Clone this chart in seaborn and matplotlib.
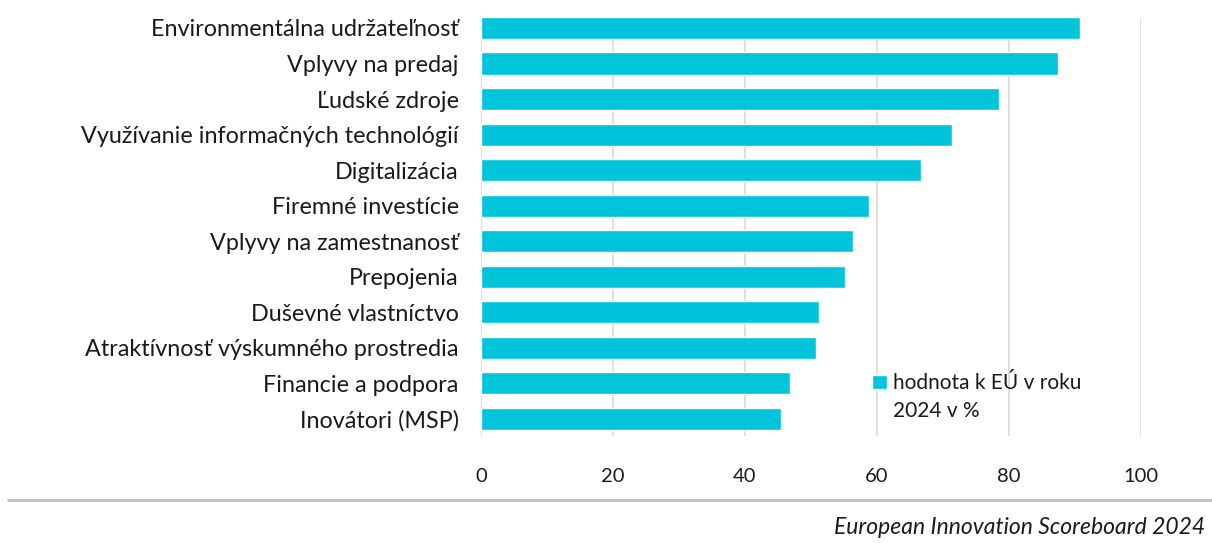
import matplotlib

matplotlib.use("Agg")

import matplotlib.pyplot as plt
import pandas as pd
import seaborn as sns
from matplotlib.lines import Line2D


CATEGORIES = [
    "Environmentálna udržateľnosť",
    "Vplyvy na predaj",
    "Ľudské zdroje",
    "Využívanie informačných technológií",
    "Digitalizácia",
    "Firemné investície",
    "Vplyvy na zamestnanosť",
    "Prepojenia",
    "Duševné vlastníctvo",
    "Atraktívnosť výskumného prostredia",
    "Financie a podpora",
    "Inovátori (MSP)",
]
VALUES = [90.8, 87.4, 78.5, 71.3, 66.7, 58.8, 56.4, 55.1, 51.2, 50.7, 46.8, 45.5]
SERIES_LABEL = ["hodnota k EÚ v roku", "2024 v %"]
X_TICKS = [0, 20, 40, 60, 80, 100]
SOURCE = "European Innovation Scoreboard 2024"

BAR_COLOR = "#00C4DA"
GRID_COLOR = "#D9D9D9"
TEXT_COLOR = "#1a1a1a"


def main() -> None:
    sns.set_theme(style="white")
    plt.rcParams["font.family"] = ["Lato", "DejaVu Sans"]

    df = pd.DataFrame({"kategoria": CATEGORIES, "hodnota": VALUES, "seria": SERIES_LABEL[0]})

    fig = plt.figure(figsize=(12.12, 5.43), dpi=100)
    ax = fig.add_axes([481 / 1212, 1 - 436 / 543, 660 / 1212, 418 / 543])

    sns.barplot(
        data=df,
        x="hodnota",
        y="kategoria",
        hue="seria",
        palette=[BAR_COLOR],
        saturation=1,
        orient="h",
        width=0.62,
        ax=ax,
        zorder=3,
    )

    ax.set_xlim(0, 100)
    ax.set_ylim(11.48, -0.28)
    ax.set_xticks(X_TICKS)
    ax.set_xlabel("")
    ax.set_ylabel("")
    ax.grid(axis="x", color=GRID_COLOR, linewidth=1.2, zorder=0)
    ax.grid(axis="y", visible=False)
    for spine in ax.spines.values():
        spine.set_visible(False)
    ax.tick_params(axis="x", length=0, pad=23, labelsize=14.5, colors=TEXT_COLOR)
    ax.tick_params(axis="y", length=0, pad=16, labelsize=16.8, colors=TEXT_COLOR)

    leg = ax.legend(
        loc="upper left",
        bbox_to_anchor=(0.577, 0.175),
        frameon=False,
        fontsize=15,
        handlelength=0.72,
        handleheight=0.72,
        handletextpad=0.3,
        borderpad=0,
    )
    leg.get_texts()[0].set_color(TEXT_COLOR)
    # second line of the legend label, handle stays aligned with line one
    fig.text(893 / 1212, 1 - 411 / 543, SERIES_LABEL[1], ha="left", va="center",
             fontsize=15, color=TEXT_COLOR)

    fig.add_artist(Line2D([8 / 1212, 1.0], [1 - 500 / 543] * 2, color="#BFBFBF", linewidth=2))
    fig.text(1205 / 1212, 1 - 528 / 543, SOURCE, ha="right", va="center",
             fontsize=16.5, style="italic", color=TEXT_COLOR)

    fig.savefig("out.png", dpi=100)
    plt.close(fig)


if __name__ == "__main__":
    main()
